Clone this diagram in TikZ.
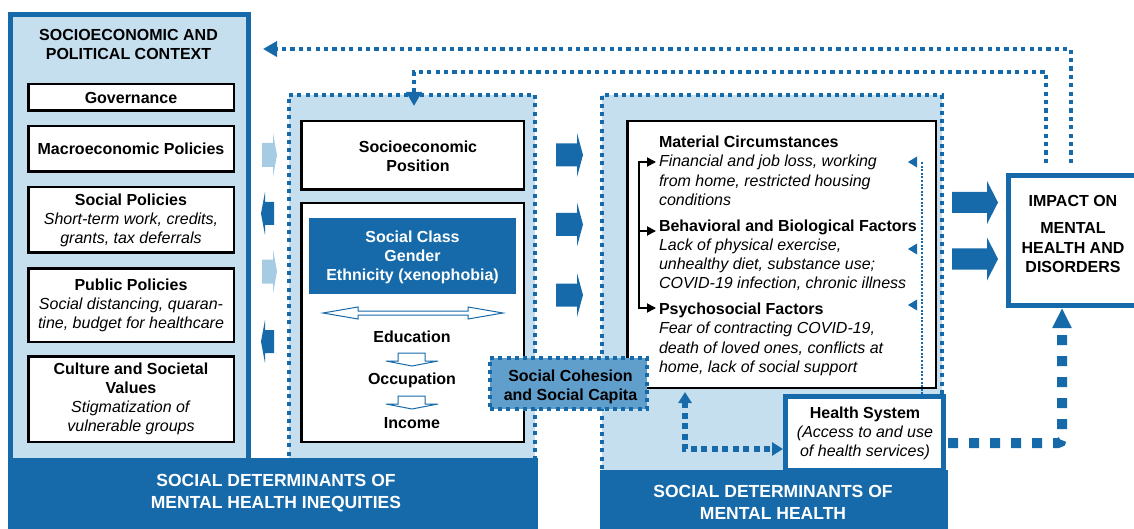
\documentclass[tikz,border=0pt]{standalone}
\usepackage{fontspec}
\setmainfont{Liberation Sans}
\usetikzlibrary{arrows.meta}
\definecolor{dblue}{RGB}{22,106,170}
\definecolor{lblue}{RGB}{198,223,238}
\definecolor{mblue}{RGB}{96,158,204}
\definecolor{larrow}{RGB}{166,204,228}
\newcommand{\blockarr}[7]{%
  \fill[#7] (#1,#4-#5) -- (#2,#4-#5) -- (#2,#4-#6) -- (#3,#4) -- (#2,#4+#6) -- (#2,#4+#5) -- (#1,#4+#5) -- cycle;}
\begin{document}
\begin{tikzpicture}[x=1pt,y=-1pt,
  txt/.style={inner sep=0pt, outer sep=0pt, text=black, font=\fontsize{16}{19}\selectfont},
  wbox/.style={draw=black, line width=2.5pt, fill=white, inner sep=0pt, align=center, font=\fontsize{16}{19}\selectfont},
  dotbox/.style={draw=dblue, line width=4pt, dash pattern=on 4pt off 4.2pt, inner sep=0pt},
  topdot/.style={draw=dblue, line width=4.2pt, dash pattern=on 4.2pt off 4.2pt},
  bigdot/.style={draw=dblue, line width=10pt, dash pattern=on 10pt off 11pt},
  meddot/.style={draw=dblue, line width=5.5pt, dash pattern=on 6pt off 4.5pt},
  thindot/.style={draw=dblue, line width=2pt, dash pattern=on 2pt off 1.6pt},
  blk/.style={draw=black, line width=1.8pt},
  hollow/.style={draw=dblue, line width=1pt, fill=white},
  bandtxt/.style={inner sep=0pt, text=white, align=center, font=\fontsize{17.5}{22}\selectfont\bfseries},
  bluebox/.style={draw=dblue, line width=5pt, fill=white, inner sep=0pt}
]
\useasboundingbox (0,0) rectangle (1134,529);
\fill[white] (0,0) rectangle (1134,529);

% ---------- left context column ----------
\node[draw=dblue, line width=5pt, fill=lblue, minimum width=238pt, minimum height=445.5pt, inner sep=0pt] (ctx) at (129.5,237.25) {};
\node[txt, align=center, font=\fontsize{16}{19}\selectfont\bfseries] (ctxtitle) at (128.5,44.8) {SOCIOECONOMIC AND\\POLITICAL CONTEXT};
\node[wbox, minimum width=205.5pt, minimum height=26.5pt] (gov) at (131,97.5) {\textbf{Governance}};
\node[wbox, minimum width=205.5pt, minimum height=45.5pt] (macro) at (131,149) {\textbf{Macroeconomic Policies}};
\node[wbox, minimum width=205.5pt, minimum height=65.5pt] (socpol) at (131,220) {\textbf{Social Policies}\\\textit{Short-term work, credits,}\\\textit{grants, tax deferrals}};
\node[wbox, minimum width=205.5pt, minimum height=73.5pt] (pubpol) at (131,305) {\textbf{Public Policies}\\\textit{Social distancing, quaran-}\\\textit{tine, budget for healthcare}};
\node[wbox, minimum width=205.5pt, minimum height=85.5pt] (culture) at (131,399) {\textbf{Culture and Societal}\\\textbf{Values}\\\textit{Stigmatization of}\\\textit{vulnerable groups}};

% ---------- middle column ----------
\node[dotbox, fill=lblue, minimum width=246pt, minimum height=365pt] (mid) at (412,277.5) {};
\node[wbox, minimum width=222.5pt, minimum height=68.5pt] (sep) at (412.5,155.5) {};
\node[txt, align=center, font=\fontsize{16}{19}\selectfont\bfseries] (septxt) at (418,156.7) {Socioeconomic\\Position};
\node[wbox, minimum width=222.5pt, minimum height=238.5pt] (lower) at (412.5,322.5) {};
\node[fill=dblue, minimum width=207pt, minimum height=76pt, inner sep=0pt] (sclass) at (412.5,256) {};
\node[txt, align=center, text=white, font=\fontsize{16}{19}\selectfont\bfseries] (sclasstxt) at (412.5,257.3) {Social Class\\Gender\\Ethnicity (xenophobia)};
% hollow double arrow
\draw[hollow] (323,313) -- (358,307) -- (358,311) -- (468,311) -- (468,307) -- (503,313) -- (468,319) -- (468,315) -- (358,315) -- (358,319) -- cycle;
\node[txt, anchor=base, font=\fontsize{16}{19}\selectfont\bfseries] (edu) at (412,342) {Education};
\draw[hollow] (398,353) -- (425,353) -- (425,361) -- (438,361) -- (412,366) -- (386,361) -- (398,361) -- cycle;
\node[txt, anchor=base, font=\fontsize{16}{19}\selectfont\bfseries] (occ) at (412,384) {Occupation};
\draw[hollow] (398,396) -- (425,396) -- (425,404) -- (438,404) -- (412,409) -- (386,404) -- (398,404) -- cycle;
\node[txt, anchor=base, font=\fontsize{16}{19}\selectfont\bfseries] (inc) at (412,428) {Income};

% band left
\node[fill=dblue, minimum width=530pt, minimum height=71pt, inner sep=0pt] (band1) at (273,493.5) {};
\node[bandtxt] (band1txt) at (276,492.8) {SOCIAL DETERMINANTS OF\\MENTAL HEALTH INEQUITIES};

% arrows between context and middle column
\blockarr{262}{273}{277}{155}{12}{22}{larrow}
\blockarr{274}{265}{261}{213.5}{11.5}{21.5}{dblue}
\blockarr{262}{273}{277}{271.5}{12}{22}{larrow}
\blockarr{274}{265}{261}{341.5}{11.5}{21.5}{dblue}

% arrows middle -> right
\blockarr{556}{577}{583}{155}{11.5}{22}{dblue}
\blockarr{556}{577}{583}{224.5}{11.5}{22}{dblue}
\blockarr{556}{577}{583}{295}{11.5}{22}{dblue}

% ---------- right column ----------
\node[dotbox, fill=lblue, minimum width=340pt, minimum height=377pt] (rbox) at (772,283.5) {};
\node[wbox, minimum width=308.5pt, minimum height=266.5pt] (mat) at (781.5,254.5) {};
\node[txt, align=left, anchor=west, font=\fontsize{16}{19.3}\selectfont] (mattxt) at (659,255.9) {%
\textbf{Material Circumstances}\\
\textit{Financial and job loss, working}\\
\textit{from home, restricted housing}\\
\textit{conditions}\\[6.2pt]
\textbf{Behavioral and Biological Factors}\\
\textit{Lack of physical exercise,}\\
\textit{unhealthy diet, substance use;}\\
\textit{COVID-19 infection, chronic illness}\\[6.2pt]
\textbf{Psychosocial Factors}\\
\textit{Fear of contracting COVID-19,}\\
\textit{death of loved ones, conflicts at}\\
\textit{home, lack of social support}};
% black bracket
\coordinate (bt) at (639,162);
\coordinate (bm) at (639,231);
\coordinate (bb) at (639,308);
\draw[blk, {Triangle[length=9pt,width=9pt]}-{Triangle[length=9pt,width=9pt]}] ([xshift=17pt]bt) -- (bt) -- (bb) -- ([xshift=17pt]bb);
\draw[blk, -{Triangle[length=9pt,width=9pt]}] (bm) -- ([xshift=17pt]bm);

\node[bluebox, minimum width=158pt, minimum height=73.5pt] (health) at (864.5,433.25) {};
\node[txt, align=center] (healthtxt) at (865,433.4) {\textbf{Health System}\\\textit{(Access to and use}\\\textit{of health services)}};

% thin dotted feedback line with small heads
\coordinate (td) at (922,162);
\draw[thindot] (td) -- (td |- health.north);
\fill[dblue] (917,156.5) -- (908,162) -- (917,167.5) -- cycle;
\fill[dblue] (917,243.5) -- (908,249) -- (917,254.5) -- cycle;
\fill[dblue] (917,299.5) -- (908,305) -- (917,310.5) -- cycle;

% band right
\node[fill=dblue, minimum width=348pt, minimum height=70pt, inner sep=0pt] (band2) at (774,505) {};
\node[bandtxt] (band2txt) at (773,502.8) {SOCIAL DETERMINANTS OF\\MENTAL HEALTH};

% social cohesion
\node[dotbox, fill=mblue, minimum width=157pt, minimum height=51pt] (coh) at (568.5,383.5) {};
\node[txt, align=center, font=\fontsize{16}{19}\selectfont\bfseries] (cohtxt) at (570.5,387.3) {Social Cohesion\\and Social Capita};

% health connector
\coordinate (hturn) at (685,449);
\draw[meddot, {Triangle[length=11pt,width=13pt]}-{Triangle[length=11pt,width=13pt]}] ([yshift=-3pt]hturn |- mat.south) -- (hturn) -- (hturn -| health.west);

% ---------- impact ----------
\node[bluebox, minimum width=129pt, minimum height=130pt] (impact) at (1073,240.5) {};
\node[txt, align=center, font=\fontsize{16}{19.5}\selectfont\bfseries] (imptxt) at (1073,234.3) {IMPACT ON\\[7.5pt]MENTAL\\HEALTH AND\\DISORDERS};

% arrows right -> impact
\blockarr{952}{987}{998}{202.5}{10.5}{21.5}{dblue}
\blockarr{952}{987}{998}{259}{10.5}{21.5}{dblue}

% health -> impact
\coordinate (cturn) at (1062,443);
\draw[bigdot, rounded corners=4pt, -{Triangle[length=20pt,width=18pt]}] ([xshift=2pt]health.east |- cturn) -- (cturn) -- (cturn |- impact.south);

% top feedback arrows
\coordinate (aup) at (1071,49);
\draw[topdot, -{Triangle[length=14pt,width=15pt]}] ([yshift=10pt]impact.north -| aup) -- (aup) -- ([xshift=12pt]aup -| ctx.east);
\coordinate (bup) at (1046,72);
\coordinate (bdn) at (414,72);
\draw[topdot, -{Triangle[length=14pt,width=15pt]}] ([yshift=10pt]impact.north -| bup) -- (bup) -- (bdn) -- ([yshift=-13pt]bdn |- mid.north);
\end{tikzpicture}
\end{document}
